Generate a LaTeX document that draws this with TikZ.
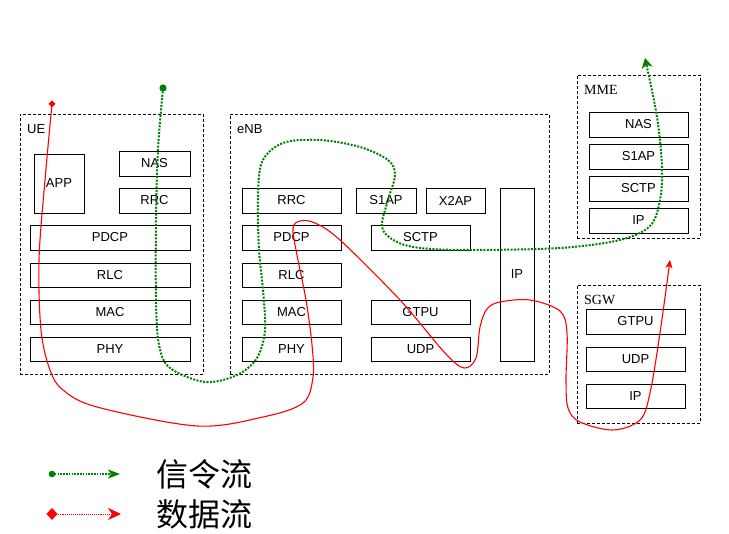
\documentclass[tikz,border=0pt]{standalone}
\usepackage{fontspec}
\setmainfont{Liberation Sans}
\newfontfamily\serifl{Liberation Serif}
\newfontfamily\cjk{Noto Sans CJK SC}
\usetikzlibrary{arrows.meta}
\definecolor{sigg}{RGB}{0,128,0}
\begin{document}
\begin{tikzpicture}[x=1pt,y=-1pt,
  layer/.style={draw, line width=0.8pt, anchor=north west, inner sep=0pt, outer sep=0pt,
    font=\fontsize{13}{15}\selectfont},
  group/.style={draw, dash pattern=on 3pt off 2pt, line width=0.8pt, anchor=north west,
    inner sep=0pt, outer sep=0pt},
  glabel/.style={anchor=west, font=\fontsize{13}{15}\selectfont, inner sep=0pt},
  slabel/.style={anchor=west, font=\serifl\fontsize{14}{16}\selectfont, inner sep=0pt},
  sigflow/.style={draw=sigg, line width=2pt, dash pattern=on 2pt off 1.4pt, line cap=butt},
  dataflow/.style={draw=red, line width=1.1pt},
  cjklab/.style={anchor=west, font=\cjk\fontsize{32}{34}\selectfont, inner sep=0pt}
]
\useasboundingbox (0,0) rectangle (729,534);

% ---------- UE ----------
\node[group, minimum width=183pt, minimum height=260pt] (ue) at (20,114) {};
\node[glabel] (uel) at (27,129) {UE};
\node[layer, minimum width=50pt, minimum height=59pt] (ueapp) at (34,154) {APP};
\node[layer, minimum width=71pt, minimum height=25pt] (uenas) at (119,151) {NAS};
\node[layer, minimum width=71pt, minimum height=25pt] (uerrc) at (119,188) {RRC};
\node[layer, minimum width=160pt, minimum height=25pt] (uepdcp) at (30,225) {PDCP};
\node[layer, minimum width=160pt, minimum height=24pt] (uerlc) at (30,263) {RLC};
\node[layer, minimum width=160pt, minimum height=24pt] (uemac) at (30,300) {MAC};
\node[layer, minimum width=160pt, minimum height=24pt] (uephy) at (30,337) {PHY};

% ---------- eNB ----------
\node[group, minimum width=319pt, minimum height=260pt] (enb) at (230,114) {};
\node[glabel] (enbl) at (237,129) {eNB};
\node[layer, minimum width=99pt, minimum height=25pt] (enrrc) at (242,188) {RRC};
\node[layer, minimum width=99pt, minimum height=25pt] (enpdcp) at (242,225) {PDCP};
\node[layer, minimum width=99pt, minimum height=24pt] (enrlc) at (242,263) {RLC};
\node[layer, minimum width=99pt, minimum height=24pt] (enmac) at (242,300) {MAC};
\node[layer, minimum width=99pt, minimum height=24pt] (enphy) at (242,337) {PHY};
\node[layer, minimum width=60pt, minimum height=25pt] (ens1ap) at (356,188) {S1AP};
\node[layer, minimum width=59pt, minimum height=25pt] (enx2ap) at (426,188) {X2AP};
\node[layer, minimum width=99pt, minimum height=25pt] (ensctp) at (371,225) {SCTP};
\node[layer, minimum width=99pt, minimum height=24pt] (engtpu) at (371,300) {GTPU};
\node[layer, minimum width=99pt, minimum height=24pt] (enudp) at (371,337) {UDP};
\node[layer, minimum width=34pt, minimum height=173pt] (enip) at (500,188) {IP};

% ---------- MME ----------
\node[group, minimum width=123pt, minimum height=163pt] (mme) at (577,75) {};
\node[slabel] (mmel) at (584,90) {MME};
\node[layer, minimum width=99pt, minimum height=25pt] (mnas) at (589,112) {NAS};
\node[layer, minimum width=99pt, minimum height=25pt] (ms1ap) at (589,144) {S1AP};
\node[layer, minimum width=99pt, minimum height=25pt] (msctp) at (589,176) {SCTP};
\node[layer, minimum width=99pt, minimum height=25pt] (mip) at (589,208) {IP};

% ---------- SGW ----------
\node[group, minimum width=123pt, minimum height=138pt] (sgw) at (577,285) {};
\node[slabel] (sgwl) at (584,300) {SGW};
\node[layer, minimum width=99pt, minimum height=25pt] (sgtpu) at (586,309) {GTPU};
\node[layer, minimum width=99pt, minimum height=24pt] (sudp) at (586,347) {UDP};
\node[layer, minimum width=99pt, minimum height=24pt] (sip) at (586,384) {IP};

% ---------- signalling flow ----------
\coordinate (gs) at (163,88);
\coordinate (ge) at (645,58);
\draw[sigflow, -{Stealth[length=10pt,width=11pt,inset=3pt,fill=sigg]}] plot[smooth, tension=0.55] coordinates {
 (gs) (158,150) (156,220) (156,300) (159,345) (170,368) (205,382) (237,375) (257,358)
 (265,330) (263,290) (259,250) (258,200) (262,162) (283,143) (320,140) (360,147)
 (388,160) (395,175) (388,200) (382,227) (395,241) (420,248) (470,250) (560,248)
 (620,240) (650,226) (660,200) (662,167) (657,117) (ge)};
\fill[sigg] (gs) circle (3.6pt);

% ---------- data flow ----------
\coordinate (rs) at (52,104);
\coordinate (re) at (670,260);
\draw[dataflow, -{Stealth[length=8pt,width=7pt,inset=2pt]}] plot[smooth, tension=0.55] coordinates {
 (rs) (45,180) (39,260) (41,330) (50,370) (63,390) (97,407) (197,426) (263,417)
 (303,403) (313,377) (312,345) (306,300) (296,250) (293,228) (300,221) (315,223)
 (340,240) (400,300) (445,353) (464,368) (476,358) (480,327) (487,309) (500,302)
 (530,300) (560,311) (567,333) (566,380) (568,408) (580,422) (613,430) (640,420)
 (650,393) (660,333) (re)};
\fill[red] (rs) ++(0,-3.5) -- ++(3.5,3.5) -- ++(-3.5,3.5) -- ++(-3.5,-3.5) -- cycle;

% ---------- legend ----------
\coordinate (l1a) at (52,474);
\coordinate (l1b) at (120,474);
\coordinate (l2a) at (52,514);
\coordinate (l2b) at (121,514);
\draw[draw=sigg, line width=1.6pt, dash pattern=on 1.6pt off 1.2pt,
  -{Stealth[length=12pt,width=9pt,inset=3pt,fill=sigg]}] (l1a) -- (l1b);
\fill[sigg] (l1a) circle (3.3pt);
\draw[draw=red, line width=0.9pt, dash pattern=on 1pt off 0.9pt,
  -{Stealth[length=13pt,width=12pt,inset=4pt,fill=red]}] (l2a) -- (l2b);
\fill[red] (l2a) ++(-5.5,0) -- ++(5.5,-6) -- ++(5.5,6) -- ++(-5.5,6) -- cycle;
\node[cjklab] (lt1) at (156,474) {信令流};
\node[cjklab] (lt2) at (156,514) {数据流};
\end{tikzpicture}
\end{document}
